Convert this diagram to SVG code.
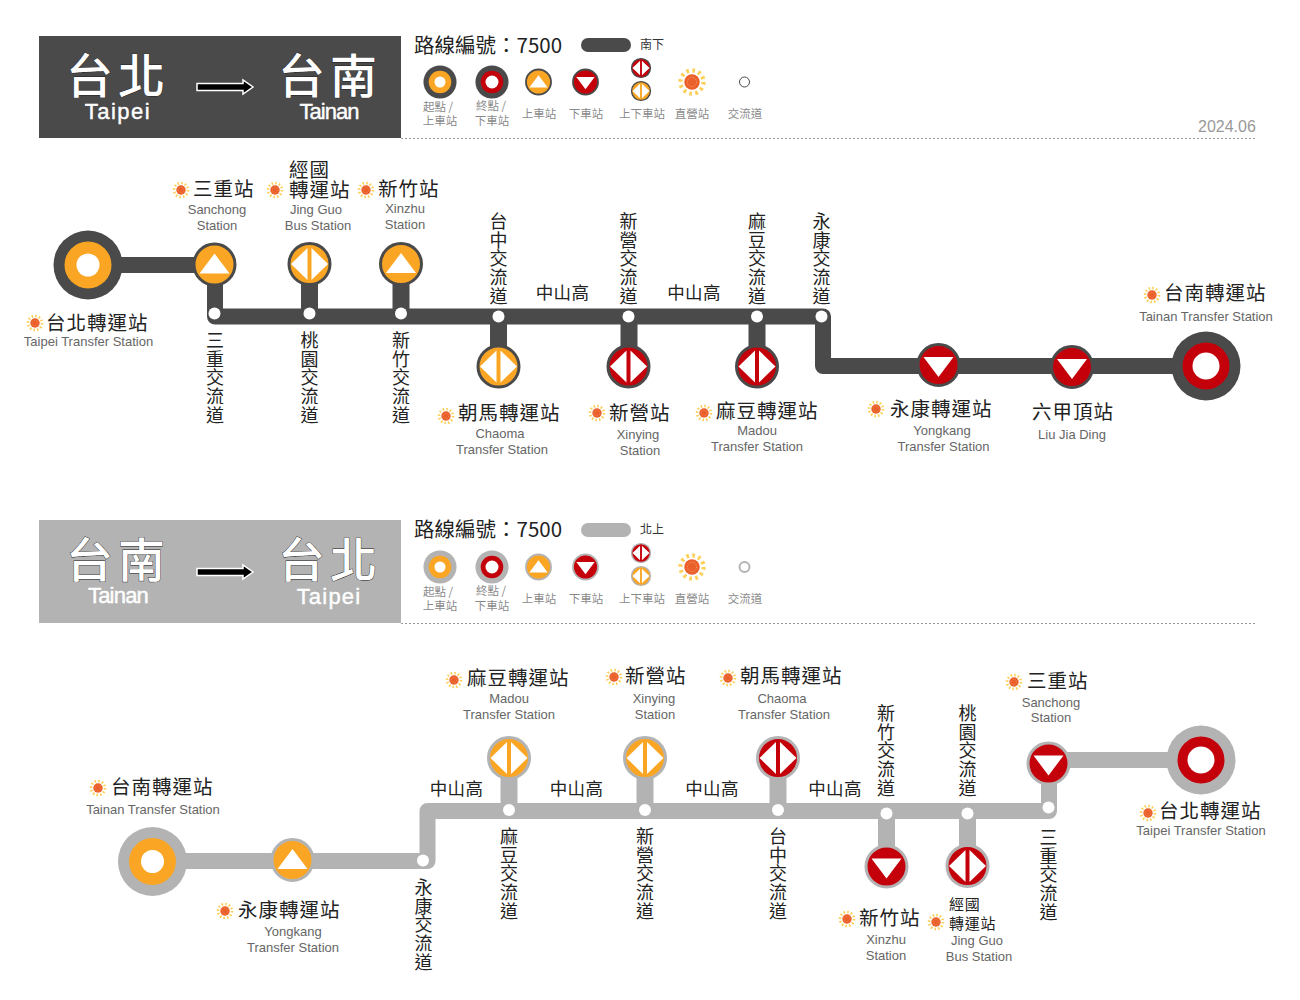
<svg xmlns="http://www.w3.org/2000/svg" width="1300" height="1000" viewBox="0 0 1300 1000">
<style>
text{font-family:"Noto Sans CJK TC","Liberation Sans",sans-serif;fill:#222}
.n{font-size:19.5px;letter-spacing:1px}
.s{font-size:15px;letter-spacing:.7px}
.e{font-family:"Liberation Sans",Arial,sans-serif;font-size:13px;fill:#666;text-anchor:middle}
.v{font-size:18px;letter-spacing:.75px;writing-mode:vertical-rl}
.h{font-size:17.5px;letter-spacing:.3px;text-anchor:middle}
.l{font-size:11.5px;fill:#8a8a8a;text-anchor:middle}
.r{font-size:20.500px}
.k{font-size:12px;fill:#333}
.t{font-size:47px;font-weight:500;letter-spacing:5px;fill:#fff;stroke:#222;stroke-width:.8px;paint-order:stroke}
.te{font-family:"Liberation Sans",Arial,sans-serif;font-size:22px;fill:#fff;stroke:#fff;stroke-width:.4px;text-anchor:middle}
.d{color:#4a4a4a}
.g{color:#b3b3b3}
.o{fill:#faa624}
.x{fill:#c4000b}
.line{fill:none;stroke-width:16;stroke-linejoin:round}
.dash{stroke:#999;stroke-width:1;stroke-dasharray:2 2}
.dot{fill:#fff;stroke:none}
.arrow{fill:#000;stroke:#fff;stroke-width:1.5}
</style>
<defs>
<g id="sun"><circle r="7" fill="none" stroke="#fdd05a" stroke-width="2.6" stroke-dasharray="1.6 2.065"/><circle r="4.7" fill="#ea5f2a"/><circle r="2.8" fill="none" stroke="#f7a06e" stroke-width=".6" stroke-dasharray=".8 .9"/></g>
<g id="termO"><circle r="34.5" fill="currentColor"/><circle r="23.5" class="o"/><circle r="11.5" fill="#fff"/></g>
<g id="termX"><circle r="34.5" fill="currentColor"/><circle r="23.5" class="x"/><circle r="13.5" fill="#fff"/></g>
<polygon id="tu" points="0,-11 15,9 -15,9" fill="#fff"/>
<polygon id="td" points="0,12 15,-8 -15,-8" fill="#fff"/>
<g id="dia" fill="#fff"><polygon points="-2,-16 -2,16 -18.5,0"/><polygon points="2,-16 2,16 18.5,0"/></g>
<g id="upO"><circle r="20.5" class="o" stroke="currentColor" stroke-width="3"/><use href="#tu"/></g>
<g id="downX"><circle r="20.5" class="x" stroke="currentColor" stroke-width="3"/><use href="#td"/></g>
<g id="bothO"><circle r="20.5" class="o" stroke="currentColor" stroke-width="3"/><use href="#dia"/></g>
<g id="bothX"><circle r="20.5" class="x" stroke="currentColor" stroke-width="3"/><use href="#dia"/></g>
</defs>
<rect width="1300" height="1000" fill="#fff"/>

<g id="header-south">
<rect x="39" y="36" width="362" height="102" fill="#4a4a4a"/>
<text class="t" x="66" y="93">台北</text>
<text class="te" x="118" y="119" style="letter-spacing:1.5px">Taipei</text>
<polygon class="arrow" points="197,83.500 243,83.500 243,80 253,87 243,94 243,90.500 197,90.500"/>
<text class="t" x="278" y="93">台南</text>
<text class="te" x="329" y="119" style="letter-spacing:-1px">Tainan</text>
</g>
<g id="legend-south" class="d">
<text class="r" x="414" y="53">路線編號：7500</text>
<rect x="581" y="38" width="50" height="14" rx="7" fill="currentColor"/>
<text class="k" x="640" y="49">南下</text>
<use href="#termO" transform="translate(440 82) scale(.48)"/>
<use href="#termX" transform="translate(492 82) scale(.48)"/>
<use href="#upO" transform="translate(538.500 82) scale(.61)"/>
<use href="#downX" transform="translate(585.500 82) scale(.61)"/>
<use href="#bothX" transform="translate(641 68) scale(.46)"/>
<use href="#bothO" transform="translate(641 91) scale(.46)"/>
<use href="#sun" transform="translate(692 82) scale(1.65)"/>
<circle cx="744.500" cy="82" r="5" fill="#fff" stroke="#4a4a4a" stroke-width="1"/>
<text class="l" x="438" y="111">起點 /</text><text class="l" x="440" y="125">上車站</text>
<text class="l" x="491" y="110">終點 /</text><text class="l" x="492" y="125">下車站</text>
<text class="l" x="539" y="118">上車站</text>
<text class="l" x="586" y="118">下車站</text>
<text class="l" x="642" y="118">上下車站</text>
<text class="l" x="692" y="118">直營站</text>
<text class="l" x="745" y="118">交流道</text>
<text x="1198" y="132" style="font-size:16px;fill:#999;font-family:'Liberation Sans',sans-serif">2024.06</text>
<line class="dash" x1="401" y1="138.500" x2="1255" y2="138.500"/>
</g>

<g id="connectors-south" class="d">
<path class="line" stroke="#4a4a4a" d="M88,265H215V316.500H823V366H1206"/>
<path fill="none" stroke="#4a4a4a" stroke-width="17" d="M309.500,264V316M401,264V316M498.500,316V366M629,316V366M757,316V366"/>
<circle class="dot" cx="214.500" cy="313.500" r="6"/>
<circle class="dot" cx="309.500" cy="313.500" r="6"/>
<circle class="dot" cx="401" cy="313.500" r="6"/>
<circle class="dot" cx="498.500" cy="316.500" r="6"/>
<circle class="dot" cx="628.500" cy="316.500" r="6"/>
<circle class="dot" cx="757" cy="316.500" r="6"/>
<circle class="dot" cx="821.500" cy="316.500" r="6"/>
</g>
<g id="labels-south">
<text class="v" x="215" y="331">三重交流道</text>
<text class="v" x="309.500" y="331">桃園交流道</text>
<text class="v" x="401" y="331">新竹交流道</text>
<text class="v" x="498.500" y="212">台中交流道</text>
<text class="v" x="628.500" y="212">新營交流道</text>
<text class="v" x="757" y="212">麻豆交流道</text>
<text class="v" x="821.500" y="212">永康交流道</text>
<text class="h" x="562.500" y="299">中山高</text>
<text class="h" x="694" y="299">中山高</text>
</g>
<g id="s-taipei" class="d"><use href="#termO" x="88" y="265"/><use href="#sun" x="35" y="323"/><text class="n" x="46" y="330">台北轉運站</text><text class="e" x="88.500" y="346">Taipei Transfer Station</text></g>
<g id="s-sanchong" class="d"><use href="#upO" x="214.500" y="264.500"/><use href="#sun" x="181" y="190"/><text class="n" x="193" y="196">三重站</text><text class="e" x="217" y="214">Sanchong</text><text class="e" x="217" y="230">Station</text></g>
<g id="s-jingguo" class="d"><use href="#bothO" x="309.500" y="264"/><use href="#sun" x="275" y="190"/><text class="n" x="289" y="177">經國</text><text class="n" x="289" y="197">轉運站</text><text class="e" x="316" y="214">Jing Guo</text><text class="e" x="318" y="230">Bus Station</text></g>
<g id="s-xinzhu" class="d"><use href="#upO" x="401" y="264"/><use href="#sun" x="366" y="190"/><text class="n" x="378" y="196">新竹站</text><text class="e" x="405" y="213">Xinzhu</text><text class="e" x="405" y="229">Station</text></g>
<g id="s-chaoma" class="d"><use href="#bothO" x="498.500" y="366.500"/><use href="#sun" x="446" y="416"/><text class="n" x="458" y="420">朝馬轉運站</text><text class="e" x="500" y="438">Chaoma</text><text class="e" x="502" y="454">Transfer Station</text></g>
<g id="s-xinying" class="d"><use href="#bothX" x="628.500" y="366.500"/><use href="#sun" x="597" y="413"/><text class="n" x="609" y="420">新營站</text><text class="e" x="638" y="439">Xinying</text><text class="e" x="640" y="455">Station</text></g>
<g id="s-madou" class="d"><use href="#bothX" x="757" y="366.500"/><use href="#sun" x="704" y="413"/><text class="n" x="716" y="418">麻豆轉運站</text><text class="e" x="757" y="435">Madou</text><text class="e" x="757" y="451">Transfer Station</text></g>
<g id="s-yongkang" class="d"><use href="#downX" x="938.500" y="365"/><use href="#sun" x="876" y="409"/><text class="n" x="890" y="416">永康轉運站</text><text class="e" x="942" y="435">Yongkang</text><text class="e" x="943.500" y="451">Transfer Station</text></g>
<g id="s-liujiading" class="d"><use href="#downX" x="1072" y="367"/><text class="n" x="1032" y="419">六甲頂站</text><text class="e" x="1072" y="439">Liu Jia Ding</text></g>
<g id="s-tainan" class="d"><use href="#termX" x="1206" y="366"/><use href="#sun" x="1152" y="295"/><text class="n" x="1164" y="300">台南轉運站</text><text class="e" x="1206" y="321">Tainan Transfer Station</text></g>

<g id="header-north">
<rect x="39" y="520" width="362" height="103" fill="#b3b3b3"/>
<text class="t" x="66" y="577">台南</text>
<text class="te" x="118" y="603" style="letter-spacing:-.8px">Tainan</text>
<polygon class="arrow" points="197,568.500 243,568.500 243,565 253,572 243,579 243,575.500 197,575.500"/>
<text class="t" x="278" y="577">台北</text>
<text class="te" x="329" y="604" style="letter-spacing:1.2px">Taipei</text>
</g>
<g id="legend-north" class="g">
<text class="r" x="414" y="537">路線編號：7500</text>
<rect x="581" y="523" width="50" height="14" rx="7" fill="currentColor"/>
<text class="k" x="640" y="534">北上</text>
<use href="#termO" transform="translate(440 567) scale(.48)"/>
<use href="#termX" transform="translate(492 567) scale(.48)"/>
<use href="#upO" transform="translate(538.500 567) scale(.61)"/>
<use href="#downX" transform="translate(585.500 567) scale(.61)"/>
<use href="#bothX" transform="translate(641 553) scale(.46)"/>
<use href="#bothO" transform="translate(641 576) scale(.46)"/>
<use href="#sun" transform="translate(692 567) scale(1.65)"/>
<circle cx="744.500" cy="567" r="5" fill="#fff" stroke="#b3b3b3" stroke-width="2"/>
<text class="l" x="438" y="596">起點 /</text><text class="l" x="440" y="610">上車站</text>
<text class="l" x="491" y="595">終點 /</text><text class="l" x="492" y="610">下車站</text>
<text class="l" x="539" y="603">上車站</text>
<text class="l" x="586" y="603">下車站</text>
<text class="l" x="642" y="603">上下車站</text>
<text class="l" x="692" y="603">直營站</text>
<text class="l" x="745" y="603">交流道</text>
<line class="dash" x1="401" y1="623.500" x2="1255" y2="623.500"/>
</g>

<g id="connectors-north" class="g">
<path class="line" stroke="#b3b3b3" d="M152,861H427.500V811H1049V760H1200"/>
<path fill="none" stroke="#b3b3b3" stroke-width="17" d="M509,758V811M645,758V811M778,758V811M886.500,811V866M967.500,811V866"/>
<circle class="dot" cx="423" cy="860.500" r="6"/>
<circle class="dot" cx="509" cy="810" r="6"/>
<circle class="dot" cx="645" cy="810" r="6"/>
<circle class="dot" cx="778" cy="810" r="6"/>
<circle class="dot" cx="886.500" cy="813.500" r="6"/>
<circle class="dot" cx="967.500" cy="813.500" r="6"/>
<circle class="dot" cx="1048.500" cy="807.500" r="6"/>
</g>
<g id="labels-north">
<text class="v" x="423.500" y="878">永康交流道</text>
<text class="v" x="509" y="827">麻豆交流道</text>
<text class="v" x="645" y="827">新營交流道</text>
<text class="v" x="778" y="827">台中交流道</text>
<text class="v" x="886" y="704">新竹交流道</text>
<text class="v" x="967.500" y="704">桃園交流道</text>
<text class="v" x="1048.500" y="828">三重交流道</text>
<text class="h" x="456.500" y="795">中山高</text>
<text class="h" x="576.500" y="795">中山高</text>
<text class="h" x="712" y="795">中山高</text>
<text class="h" x="835" y="795">中山高</text>
</g>
<g id="n-tainan" class="g"><use href="#termO" x="152.500" y="861.500"/><use href="#sun" x="98" y="788"/><text class="n" x="111" y="794">台南轉運站</text><text class="e" x="153" y="814">Tainan Transfer Station</text></g>
<g id="n-yongkang" class="g"><use href="#upO" x="292.500" y="860"/><use href="#sun" x="225" y="911"/><text class="n" x="238" y="917">永康轉運站</text><text class="e" x="293" y="936">Yongkang</text><text class="e" x="293" y="952">Transfer Station</text></g>
<g id="n-madou" class="g"><use href="#bothO" x="509" y="758"/><use href="#sun" x="454" y="680"/><text class="n" x="467" y="685">麻豆轉運站</text><text class="e" x="509" y="703">Madou</text><text class="e" x="509" y="719">Transfer Station</text></g>
<g id="n-xinying" class="g"><use href="#bothO" x="645" y="758"/><use href="#sun" x="614" y="677"/><text class="n" x="625" y="683">新營站</text><text class="e" x="654" y="703">Xinying</text><text class="e" x="655" y="719">Station</text></g>
<g id="n-chaoma" class="g"><use href="#bothX" x="778" y="758"/><use href="#sun" x="728" y="678"/><text class="n" x="740" y="683">朝馬轉運站</text><text class="e" x="782" y="703">Chaoma</text><text class="e" x="784" y="719">Transfer Station</text></g>
<g id="n-xinzhu" class="g"><use href="#downX" x="886.500" y="866.500"/><use href="#sun" x="847" y="919"/><text class="n" x="859" y="925">新竹站</text><text class="e" x="886" y="944">Xinzhu</text><text class="e" x="886" y="960">Station</text></g>
<g id="n-jingguo" class="g"><use href="#bothX" x="967.500" y="866"/><use href="#sun" x="936" y="922"/><text class="s" x="949" y="910">經國</text><text class="s" x="949" y="929">轉運站</text><text class="e" x="977" y="945">Jing Guo</text><text class="e" x="979" y="961">Bus Station</text></g>
<g id="n-sanchong" class="g"><use href="#downX" x="1048.500" y="763.500"/><use href="#sun" x="1014" y="682"/><text class="n" x="1027" y="688">三重站</text><text class="e" x="1051" y="707">Sanchong</text><text class="e" x="1051" y="722">Station</text></g>
<g id="n-taipei" class="g"><use href="#termX" x="1201" y="760"/><use href="#sun" x="1148" y="813"/><text class="n" x="1159" y="818">台北轉運站</text><text class="e" x="1201" y="835">Taipei Transfer Station</text></g>
</svg>
